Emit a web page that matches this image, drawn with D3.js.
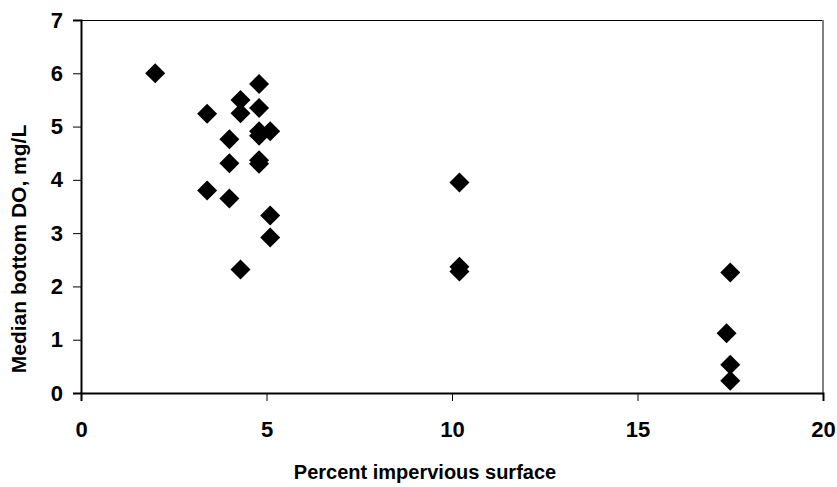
<!doctype html>
<html>
<head>
<meta charset="utf-8">
<title>Median bottom DO vs impervious surface</title>
<style>
  body { margin: 0; background: #fff; }
  svg text { font-family: "Liberation Sans", Arial, sans-serif; font-weight: bold; fill: #000; }
</style>
</head>
<body>
<div id="chart"></div>
<script src="https://d3js.org/d3.v7.min.js"></script>
<script>
// values
var impervious = [2.0, 4.8, 4.3, 3.4, 4.3, 4.8, 4.8, 4.8, 5.1, 4.0, 4.0, 4.8, 4.8, 3.4, 4.0, 5.1, 5.1, 4.3,
                  10.2, 10.2, 10.2, 17.5, 17.4, 17.5, 17.5];
var bottomDO   = [6.0, 5.8, 5.5, 5.24, 5.25, 5.35, 4.91, 4.83, 4.91, 4.76, 4.31, 4.37, 4.3, 3.8, 3.65, 3.33, 2.92, 2.32,
                  3.95, 2.37, 2.28, 2.26, 1.12, 0.53, 0.23];
var xTicks = [0, 5, 10, 15, 20];
var yTicks = [0, 1, 2, 3, 4, 5, 6, 7];

var W = 837, H = 487;
var margin = {top: 20, right: 14, bottom: 94, left: 81};
var w = W - margin.left - margin.right;
var h = H - margin.top - margin.bottom;

var svg = d3.select("#chart").append("svg").attr("width", W).attr("height", H);
var g = svg.append("g").attr("transform", "translate(" + margin.left + "," + margin.top + ")");

var x = d3.scaleLinear().domain([0, 20]).range([0, w]);
var y = d3.scaleLinear().domain([0, 7]).range([h, 0]);

// plot frame: top and right edges
g.append("line").attr("x1", 0).attr("x2", w).attr("y1", 0.5).attr("y2", 0.5)
  .attr("stroke", "#000").attr("stroke-width", 1);
g.append("line").attr("x1", w).attr("x2", w).attr("y1", 0).attr("y2", h)
  .attr("stroke", "#808080").attr("stroke-width", 2);

var xAxis = g.append("g").attr("transform", "translate(0," + h + ")")
  .call(d3.axisBottom(x).tickValues(xTicks).tickFormat(d3.format("d")).tickSize(8).tickPadding(20));
var yAxis = g.append("g")
  .call(d3.axisLeft(y).tickValues(yTicks).tickFormat(d3.format("d")).tickSize(8).tickPadding(10));

[xAxis, yAxis].forEach(function(a) {
  a.selectAll("path").attr("stroke", "#000").attr("stroke-width", 2);
  a.selectAll("line").attr("stroke", "#000").attr("stroke-width", 1);
  a.selectAll("text").style("font-size", "22px").style("font-weight", "bold")
    .attr("font-family", null);
});

// diamonds
var diamond = d3.symbol().type(d3.symbolSquare).size(200);
g.selectAll("path.pt").data(impervious).enter().append("path")
  .attr("class", "pt")
  .attr("d", diamond)
  .attr("transform", function(d, i) {
    return "translate(" + x(d) + "," + y(bottomDO[i]) + ") rotate(45)";
  })
  .attr("fill", "#000");

// axis titles
svg.append("text").attr("x", 425).attr("y", 479)
  .attr("text-anchor", "middle").style("font-size", "20px")
  .text("Percent impervious surface");
svg.append("text")
  .attr("transform", "translate(26,249) rotate(-90)")
  .attr("text-anchor", "middle").style("font-size", "21px")
  .text("Median bottom DO, mg/L");
</script>
</body>
</html>
